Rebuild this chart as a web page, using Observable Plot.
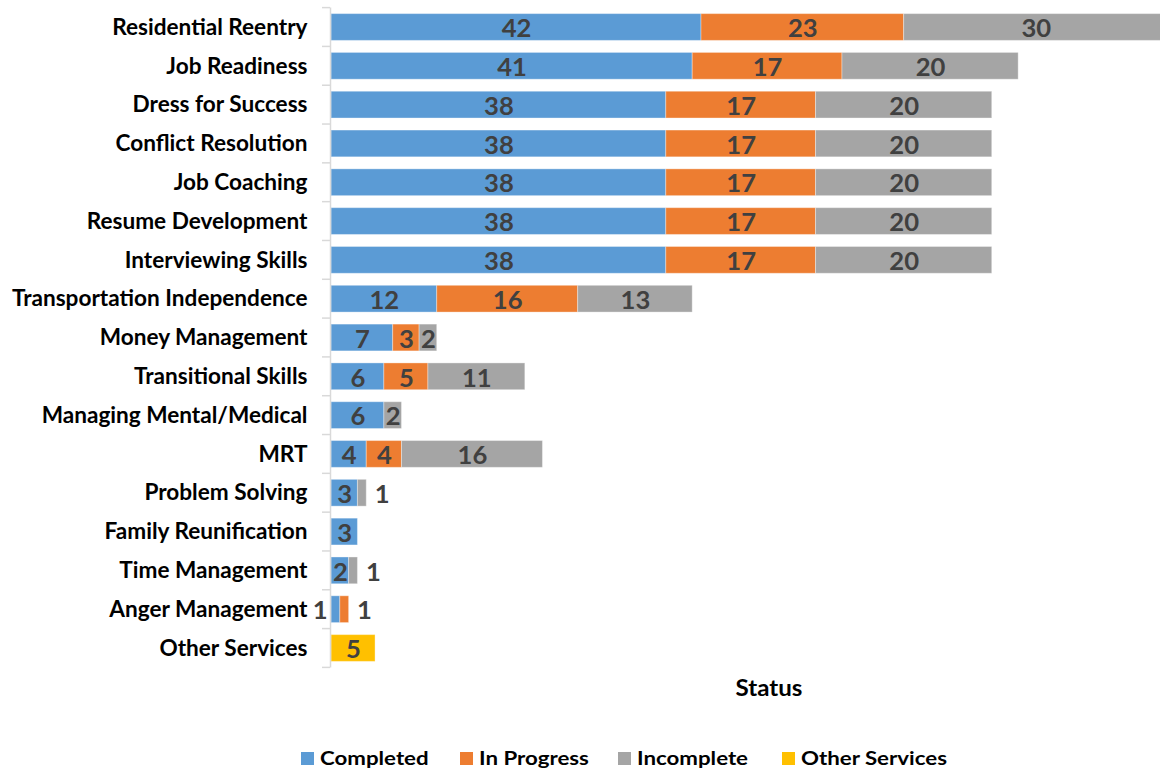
<!DOCTYPE html>
<html>
<head>
<meta charset="utf-8">
<script src="https://cdn.jsdelivr.net/npm/d3@7"></script>
<script src="https://cdn.jsdelivr.net/npm/@observablehq/plot@0.6"></script>
<style>
  html, body { margin: 0; padding: 0; background: #fff; }
  #wrap { position: relative; width: 1160px; height: 769px; overflow: hidden; font-family: Lato, "Open Sans", sans-serif; }
  #chart { position: absolute; left: 0; top: 0; }
  #below { position: absolute; left: 0; top: 672px; }
</style>
</head>
<body>
<div id="wrap">
  <div id="chart"></div>
  <div id="below"></div>
</div>
<script>
const categories = ["Residential Reentry","Job Readiness","Dress for Success","Conflict Resolution","Job Coaching","Resume Development","Interviewing Skills","Transportation Independence","Money Management","Transitional Skills","Managing Mental/Medical","MRT","Problem Solving","Family Reunification","Time Management","Anger Management","Other Services"];
const seriesNames = ["Completed","In Progress","Incomplete","Other Services"];
const completed  = [42,41,38,38,38,38,38,12,7,6,6,4,3,3,2,1,0];
const inProgress = [23,17,17,17,17,17,17,16,3,5,0,4,0,0,0,1,0];
const incomplete = [30,20,20,20,20,20,20,13,2,11,2,16,1,0,1,0,0];
const otherServices = [0,0,0,0,0,0,0,0,0,0,0,0,0,0,0,0,5];
const colors = ["#5B9BD5","#ED7D31","#A5A5A5","#FFC000"];
const axisTitle = "Status";

const seriesValues = [completed, inProgress, incomplete, otherServices];

// stacked rows
const rows = [];
categories.forEach((cat, i) => {
  let acc = 0;
  seriesValues.forEach((vals, s) => {
    const v = vals[i];
    if (v > 0) {
      rows.push({cat, series: seriesNames[s], value: v, x1: acc, x2: acc + v});
      acc += v;
    }
  });
});

const FONT = "Lato";
const ctx = document.createElement("canvas").getContext("2d");
ctx.font = `bold 100px ${FONT}`;
function inkWidth(t) { const m = ctx.measureText(t); return m.actualBoundingBoxLeft + m.actualBoundingBoxRight; }
function ascent(t) { return ctx.measureText(t).actualBoundingBoxAscent; }
function fit(text, target) { return 100 * target / inkWidth(text); }
function stretchK(size, sample, targetCap) { return targetCap / (ascent(sample) * size / 100); }

const catSize = fit("Transportation Independence", 295);
const catK = stretchK(catSize, "MRT", 14.7);
const valSize = fit("42", 28.7);
const valK = stretchK(valSize, "42", 18.4);
const legSize = fit("Completed", 106.7);
const legK = stretchK(legSize, "C", 14.5);
const statusSize = fit(axisTitle, 65.7);
const statusK = stretchK(statusSize, "S", 17);

const inside = rows.filter(d => d.value > 1);
const outRight = rows.filter(d => d.value === 1 && d.series !== "Completed");
const outLeft = rows.filter(d => d.value === 1 && d.series === "Completed");

const W = 1160, H = 672, MT = 7.6, MB = 4.6, ML = 331;

const boundaryTicks = (index, scales, values, dims) => {
  const g = d3.create("svg:g");
  const n = categories.length;
  const step = (dims.height - dims.marginTop - dims.marginBottom) / n;
  for (let i = 0; i <= n; i++) {
    const y = dims.marginTop + i * step;
    g.append("line").attr("x1", dims.marginLeft - 9).attr("x2", dims.marginLeft - 1)
      .attr("y1", y).attr("y2", y).attr("stroke", "#d9d9d9").attr("stroke-width", 1.5);
  }
  return g.node();
};

const chart = Plot.plot({
  width: W,
  height: H,
  marginLeft: ML,
  marginRight: 0,
  marginTop: MT,
  marginBottom: MB,
  style: {fontFamily: FONT, background: "white"},
  x: {domain: [0, 94.1], axis: null},
  y: {domain: categories, axis: null, paddingInner: 0.31, paddingOuter: 0.155, round: false},
  color: {domain: seriesNames, range: colors},
  marks: [
    Plot.barX(rows, {x1: "x1", x2: "x2", y: "cat", fill: "series", stroke: "white", strokeOpacity: 0.35, strokeWidth: 1, clip: true}),
    Plot.ruleX([0], {stroke: "#d9d9d9", strokeWidth: 1.5, dx: -1}),
    boundaryTicks,
    Plot.axisY({tickSize: 0, tickPadding: 24, fontSize: catSize, fontWeight: "bold", fill: "#000", label: null, ariaLabel: "cat-labels"}),
    Plot.text(inside, {x: d => (d.x1 + d.x2) / 2, y: "cat", text: d => String(d.value), fontSize: valSize, fontWeight: "bold", fill: "#404040", dy: 1.5, ariaLabel: "val-labels"}),
    Plot.text(outRight, {x: "x2", y: "cat", text: d => String(d.value), textAnchor: "start", dx: 8, fontSize: valSize, fontWeight: "bold", fill: "#404040", dy: 1.5, ariaLabel: "val-labels"}),
    Plot.text(outLeft, {x: "x1", y: "cat", text: d => String(d.value), textAnchor: "end", dx: -4, fontSize: valSize, fontWeight: "bold", fill: "#404040", dy: 1.5, ariaLabel: "val-labels"})
  ]
});
document.getElementById("chart").appendChild(chart);

// vertical stretch of glyphs around each text's anchor, to mimic the reference font proportions
function stretch(el, k) {
  const t = el.getAttribute("transform");
  let y = 0;
  if (t) {
    const m = /translate\(\s*([-\d.e]+)[ ,]+([-\d.e]+)/.exec(t);
    y = m ? +m[2] : 0;
  } else {
    y = +(el.getAttribute("y") || 0);
  }
  el.setAttribute("transform", `translate(0,${y}) scale(1,${k}) translate(0,${-y}) ${t || ""}`);
}
chart.querySelectorAll('g[aria-label="cat-labels"] text').forEach(el => stretch(el, catK));
chart.querySelectorAll('g[aria-label="val-labels"] text').forEach(el => stretch(el, valK));

// axis title and legend below the plot
const below = d3.select("#below").append("svg").attr("width", W).attr("height", 769 - H)
  .style("font-family", FONT).style("font-weight", "bold");
const off = H; // page y offset of this svg
below.append("text").attr("text-anchor", "middle").attr("font-size", statusSize)
  .attr("transform", `translate(769,${696 - off}) scale(1,${statusK})`).text(axisTitle);

const legendLefts = [301, 460, 618, 782];
seriesNames.forEach((name, i) => {
  below.append("rect").attr("x", legendLefts[i]).attr("y", 752 - off).attr("width", 13).attr("height", 13).attr("fill", colors[i]);
  below.append("text").attr("font-size", legSize).attr("fill", "#000")
    .attr("transform", `translate(${legendLefts[i] + 19},${765 - off}) scale(1,${legK})`).text(name);
});
</script>
</body>
</html>
